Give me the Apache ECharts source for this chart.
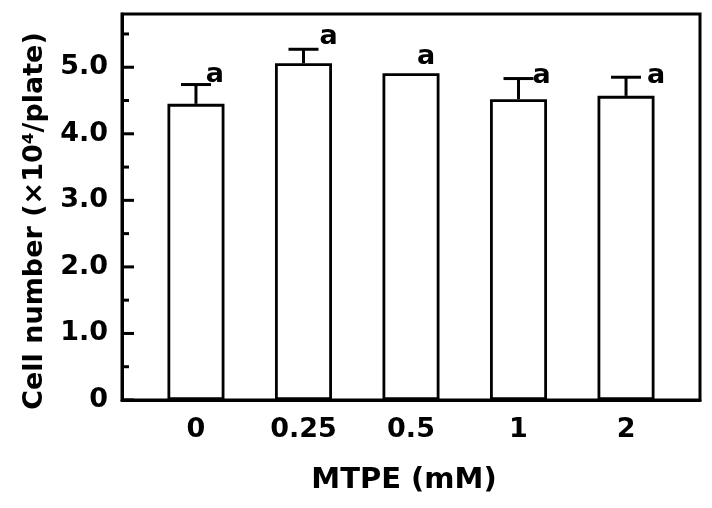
<!DOCTYPE html>
<html><head><meta charset="utf-8">
<script src="https://cdn.jsdelivr.net/npm/echarts@6/dist/echarts.min.js"></script>
<style>html,body{margin:0;padding:0;background:#fff}#c{width:712px;height:508px}</style>
</head><body><div id="c"></div>
<script>
const categories = ['0', '0.25', '0.5', '1', '2'];
const means = [4.45, 5.06, 4.91, 4.52, 4.57];
const errors = [0.29, 0.21, 0.0, 0.31, 0.28];
const sigLetters = ['a', 'a', 'a', 'a', 'a'];
const yTicks = [0, 1, 2, 3, 4, 5];
const yMinorTicks = [0.5, 1.5, 2.5, 3.5, 4.5, 5.5];

// label placement (style, px offsets from the top of each error bar)
const letterOffsets = [[19, -10], [25, -12], [15, -16], [23, -3], [30, -1]];

const F = 'DejaVu Sans';
const tickData = yTicks.map(v => [v, 12]).concat(yMinorTicks.map(v => [v, 7]));
const chart = echarts.init(document.getElementById('c'));
chart.setOption({
  animation: false,
  grid: {left: 122, right: 12, top: 14, bottom: 108, show: true, borderColor: '#000', borderWidth: 3, backgroundColor: 'transparent'},
  xAxis: {
    type: 'value', min: -0.688, max: 4.688,
    name: 'MTPE (mM)', nameLocation: 'middle', nameGap: 66,
    nameTextStyle: {fontFamily: F, fontWeight: 'bold', fontSize: 29, color: '#000', padding: [0, 14, 0, 0]},
    axisLine: {show: true, onZero: false, lineStyle: {color: '#000', width: 3}},
    axisTick: {show: false},
    splitLine: {show: false},
    axisLabel: {customValues: [0, 1, 2, 3, 4], formatter: v => categories[Math.round(v)],
      fontFamily: F, fontWeight: 'bold', fontSize: 27, color: '#000', margin: 16}
  },
  yAxis: {
    type: 'value', min: 0, max: 5.8, interval: 1,
    name: 'Cell number (\u00d710\u2074/plate)', nameLocation: 'middle', nameGap: 74,
    nameTextStyle: {fontFamily: F, fontWeight: 'bold', fontSize: 27, color: '#000', padding: [0, 28, 0, 0]},
    axisLine: {show: true, onZero: false, lineStyle: {color: '#000', width: 3}},
    axisTick: {show: false},
    minorTick: {show: false},
    splitLine: {show: false},
    axisLabel: {customValues: yTicks, formatter: v => (v === 0 ? '0' : v.toFixed(1)),
      fontFamily: F, fontWeight: 'bold', fontSize: 27, color: '#000', margin: 14}
  },
  series: [
    {
      type: 'bar', barWidth: 57,
      data: means.map((m, i) => [i, m]),
      itemStyle: {color: '#fff', borderColor: '#000', borderWidth: 2.8},
      z: 2
    },
    {
      type: 'custom', z: 3,
      data: means.map((m, i) => [i, m, m + errors[i]]),
      renderItem: (params, api) => {
        const i = api.value(0);
        const p0 = api.coord([i, api.value(1)]);
        const p1 = api.coord([i, api.value(2)]);
        const st = {stroke: '#000', lineWidth: 3};
        const children = [];
        if (Math.abs(p0[1] - p1[1]) >= 0.5) {
          children.push({type: 'line', shape: {x1: p0[0], y1: p0[1], x2: p1[0], y2: p1[1]}, style: st});
          children.push({type: 'line', shape: {x1: p1[0] - 15, y1: p1[1], x2: p1[0] + 15, y2: p1[1]}, style: st});
        }
        const off = letterOffsets[params.dataIndex];
        children.push({type: 'text', x: p1[0] + off[0], y: p1[1] + off[1],
          style: {text: sigLetters[params.dataIndex], fill: '#000', align: 'center', verticalAlign: 'middle',
            font: 'bold 27px "DejaVu Sans"'}});
        return {type: 'group', children};
      }
    },
    {
      // y-axis ticks pointing inward (major and minor), placed through the y scale
      type: 'custom', z: 5, clip: false,
      data: tickData,
      renderItem: (params, api) => {
        const x0 = params.coordSys.x;
        const y = api.coord([0, api.value(0)])[1];
        return {type: 'line', shape: {x1: x0, y1: y, x2: x0 + api.value(1), y2: y},
          style: {stroke: '#000', lineWidth: 3}};
      }
    }
  ]
});
</script></body></html>
